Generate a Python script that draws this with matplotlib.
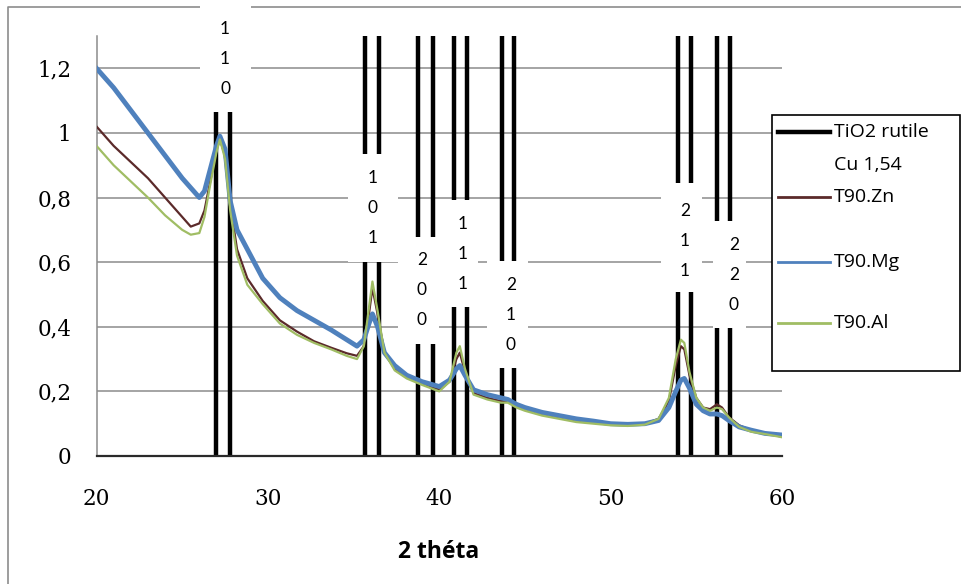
import matplotlib
matplotlib.use('Agg')
import matplotlib.pyplot as plt
from matplotlib.patches import Rectangle
from matplotlib.lines import Line2D

# XRD patterns (2 theta in degrees, normalised intensity)
two_theta = [20, 21, 22, 23, 24, 25, 25.5, 26, 26.3, 26.6, 27.0, 27.2, 27.5, 27.8,
             28.2, 28.8, 29.7, 30.7, 31.7, 32.7, 33.7, 34.6, 35.2, 35.6, 35.9, 36.1,
             36.4, 36.8, 37.4, 38.1, 39.0, 40.0, 40.6, 41.0, 41.2, 41.5, 42.0, 42.8,
             43.6, 44.0, 44.5, 45.0, 46.0, 47.0, 48.0, 49.0, 50.0, 51.0, 52.0, 52.8,
             53.4, 53.8, 54.1, 54.3, 54.6, 55.0, 55.4, 55.8, 56.2, 56.5, 56.9, 57.5,
             58.2, 59.0, 60.0]
t90_zn = [1.02, 0.96, 0.91, 0.86, 0.80, 0.74, 0.71, 0.72, 0.76, 0.84, 0.95, 0.98, 0.93, 0.78,
          0.64, 0.55, 0.48, 0.42, 0.385, 0.355, 0.335, 0.318, 0.31, 0.34, 0.44, 0.52,
          0.44, 0.32, 0.27, 0.245, 0.225, 0.205, 0.23, 0.30, 0.32, 0.26, 0.195, 0.18,
          0.17, 0.17, 0.155, 0.145, 0.13, 0.12, 0.11, 0.105, 0.10, 0.097, 0.10, 0.115,
          0.17, 0.28, 0.34, 0.33, 0.25, 0.18, 0.15, 0.145, 0.16, 0.15, 0.12, 0.095,
          0.08, 0.07, 0.06]
t90_mg = [1.20, 1.14, 1.07, 1.00, 0.93, 0.86, 0.83, 0.80, 0.82, 0.88, 0.96, 0.99, 0.95, 0.79,
          0.70, 0.64, 0.55, 0.49, 0.45, 0.42, 0.39, 0.36, 0.34, 0.36, 0.41, 0.44,
          0.40, 0.32, 0.28, 0.25, 0.23, 0.215, 0.235, 0.27, 0.28, 0.25, 0.205, 0.19,
          0.18, 0.175, 0.16, 0.15, 0.135, 0.125, 0.115, 0.108, 0.10, 0.098, 0.10, 0.11,
          0.15, 0.20, 0.235, 0.24, 0.21, 0.16, 0.14, 0.13, 0.13, 0.125, 0.11, 0.09,
          0.08, 0.07, 0.065]
t90_al = [0.96, 0.90, 0.85, 0.80, 0.745, 0.70, 0.685, 0.69, 0.74, 0.83, 0.94, 0.98, 0.92, 0.76,
          0.62, 0.53, 0.47, 0.41, 0.375, 0.35, 0.33, 0.31, 0.30, 0.34, 0.46, 0.54,
          0.45, 0.32, 0.265, 0.24, 0.22, 0.20, 0.23, 0.32, 0.34, 0.27, 0.19, 0.175,
          0.165, 0.165, 0.15, 0.14, 0.125, 0.115, 0.105, 0.10, 0.095, 0.093, 0.097, 0.115,
          0.18, 0.30, 0.36, 0.35, 0.26, 0.18, 0.15, 0.14, 0.15, 0.145, 0.12, 0.09,
          0.075, 0.068, 0.058]

# TiO2 rutile reference (Cu 1,54): every peak is drawn as a pair of bars
rutile_bars = [26.97, 27.79, 35.66, 36.50, 38.78, 39.61, 40.86, 41.60,
               43.68, 44.36, 53.94, 54.67, 56.18, 56.96]
hkl = ['110', '101', '200', '111', '210', '211', '220']
hkl_x = [27.50, 36.13, 38.99, 41.38, 44.18, 54.34, 57.19]
hkl_y = [1.229, 0.768, 0.514, 0.625, 0.437, 0.666, 0.560]

yticks = [0, 0.2, 0.4, 0.6, 0.8, 1.0, 1.2]
ytick_labels = ['0', '0,2', '0,4', '0,6', '0,8', '1', '1,2']
xticks = [20, 30, 40, 50, 60]

series = [('T90.Zn', t90_zn, '#5b2a2a', 1.6),
          ('T90.Mg', t90_mg, '#4f81bd', 3.5),
          ('T90.Al', t90_al, '#a0bd64', 1.6)]

# white boxes behind the hkl labels: centre x, width, bottom, top (data units)
box_x = [27.53, 36.13, 38.79, 41.12, 43.98, 54.13, 56.93]
box_w = [2.98, 2.92, 2.39, 2.28, 2.39, 2.39, 1.93]
box_lo = [1.065, 0.601, 0.347, 0.461, 0.272, 0.508, 0.396]
box_hi = [1.43, 0.935, 0.678, 0.793, 0.604, 0.845, 0.728]

W, H = 962, 584
fig = plt.figure(figsize=(W / 100, H / 100), dpi=100)
ax = fig.add_axes([96.5 / W, 1 - 456 / H, (782 - 96.5) / W, (456 - 36) / H])

# outer chart frame (only top and left survive in the crop)
ax.plot([8 / W, 8 / W, 1.0], [0.0, 1 - 7 / H, 1 - 7 / H], transform=fig.transFigure,
        color='#8c8c8c', lw=1.2, clip_on=False, zorder=1)

ax.vlines(rutile_bars, 0, 1.3, colors='black', lw=3.2, zorder=2)

for name, vals, col, lw in series:
    ax.plot(two_theta, vals, color=col, lw=lw, zorder=3)

for lab, x, y, bx, bw, lo, hi in zip(hkl, hkl_x, hkl_y, box_x, box_w, box_lo, box_hi):
    ax.add_patch(Rectangle((bx - bw / 2, lo), bw, hi - lo, fc='white', ec='none',
                           zorder=4, clip_on=False))
    for i, ch in enumerate(lab):
        ax.text(x, y + (1 - i) * 0.093, ch, ha='center', va='center', fontsize=12.5,
                family='Lato', zorder=5, clip_on=False)

ax.set_xlim(20, 60)
ax.set_ylim(0, 1.3)
ax.set_xticks(xticks)
ax.set_yticks(yticks)
ax.set_yticklabels(ytick_labels)
ax.yaxis.grid(True, color='#8c8c8c', lw=1.1)
ax.set_axisbelow(True)
for s in ['top', 'right']:
    ax.spines[s].set_visible(False)
ax.spines['left'].set_color('#8c8c8c')
ax.spines['left'].set_linewidth(1.1)
ax.spines['bottom'].set_color('#2a2a2a')
ax.spines['bottom'].set_linewidth(1.6)
ax.tick_params(axis='both', length=0, labelsize=15.5)
ax.tick_params(axis='y', pad=18)
ax.tick_params(axis='x', pad=23)
for t in ax.get_xticklabels() + ax.get_yticklabels():
    t.set_family('DejaVu Serif')

fig.text(439 / W, 1 - 552 / H, '2 théta', ha='center', va='center',
         fontsize=16.5, fontweight='bold', family='Open Sans')

# legend box, drawn by hand to follow the Excel layout
fig.add_artist(Rectangle((772 / W, 1 - 371 / H), 188 / W, 256 / H, transform=fig.transFigure,
                         fc='white', ec='black', lw=1.2, zorder=10))
leg_labels = ['TiO2 rutile\nCu 1,54'] + [s[0] for s in series]
leg_colors = ['black'] + [s[2] for s in series]
leg_lw = [3.2, 2.0, 2.0, 2.0]
leg_y = [132, 197, 262, 323]
for lab, col, lw, py in zip(leg_labels, leg_colors, leg_lw, leg_y):
    fy = 1 - py / H
    fig.add_artist(Line2D([778 / W, 830 / W], [fy, fy], transform=fig.transFigure,
                          color=col, lw=lw, zorder=11))
    for k, part in enumerate(lab.split('\n')):
        fig.text(834 / W, 1 - (py + 33 * k) / H, part, ha='left', va='center',
                 fontsize=14, family='Open Sans', zorder=12)

fig.savefig('out.png', dpi=100)
